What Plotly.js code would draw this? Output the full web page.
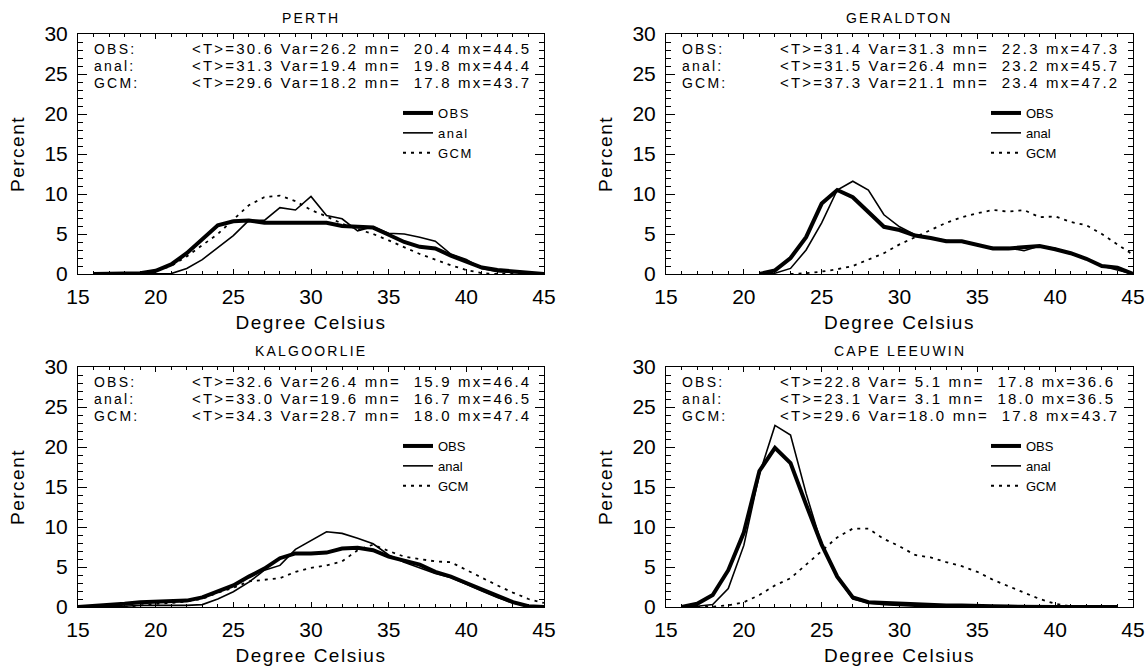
<!DOCTYPE html>
<html>
<head>
<meta charset="utf-8">
<script src="https://cdn.plot.ly/plotly-3.0.1.min.js"></script>
<style>
html,body{margin:0;padding:0;background:#fff;}
#chart{width:1147px;height:669px;}
.annotation-text{letter-spacing:2.2px;}
.legendtext{letter-spacing:1.5px;}
text.xtitle,text.x2title,text.x3title,text.x4title,text.ytitle,text.y2title,text.y3title,text.y4title{letter-spacing:1.5px;}
</style>
</head>
<body>
<div id="chart"></div>
<script>
// ---------------- data ----------------
const stationNames = ['PERTH', 'GERALDTON', 'KALGOORLIE', 'CAPE LEEUWIN'];
const seriesNames = ['OBS', 'anal', 'GCM'];

const perthDeg  = [16,17,18,19,20,21,22,23,24,25,26,27,28,29,30,31,32,33,34,35,36,37,38,39,40,41,42,43,44,45];
const perthObs  = [0,0,0,0.1,0.4,1.2,2.6,4.4,6.1,6.6,6.7,6.4,6.4,6.4,6.4,6.4,6.0,5.9,5.8,4.9,4.0,3.4,3.2,2.3,1.6,0.8,0.5,0.3,0.2,0];
const perthAnal = [0,0,0,0,0,0.05,0.7,1.8,3.3,4.8,6.7,6.7,8.3,8.0,9.7,7.3,6.9,5.4,5.9,5.1,5.0,4.6,4.1,2.5,1.8,0.7,0.3,0.2,0.1,0];
const perthGcm  = [0,0,0,0.1,0.4,1.0,2.2,3.6,5.0,6.8,8.6,9.6,9.8,9.1,8.0,7.2,6.3,5.6,5.0,4.2,3.3,2.5,1.8,1.1,0.5,0.1,0,0,0,0];

const geraldtonDeg  = [21,22,23,24,25,26,27,28,29,30,31,32,33,34,35,36,37,38,39,40,41,42,43,44,45];
const geraldtonObs  = [0,0.45,2.0,4.6,8.8,10.5,9.6,7.7,5.9,5.5,4.8,4.5,4.1,4.1,3.7,3.2,3.2,3.4,3.5,3.1,2.6,1.9,1.0,0.8,0];
const geraldtonAnal = [0,0.1,0.7,3.0,6.4,10.5,11.6,10.5,7.4,5.9,4.9,4.5,4.2,4.0,3.6,3.3,3.3,2.9,3.5,3.2,2.5,1.9,1.0,0.5,0];
const geraldtonGcm  = [null,null,0,0.1,0.3,0.6,1.0,1.8,2.6,3.7,4.6,5.5,6.4,7.1,7.6,8.0,7.8,8.0,7.1,7.2,6.5,6.1,5.0,3.7,2.4];

const kalgoorlieDeg  = [15,16,17,18,19,20,21,22,23,24,25,26,27,28,29,30,31,32,33,34,35,36,37,38,39,40,41,42,43,44,45];
const kalgoorlieObs  = [0,0.1,0.2,0.4,0.6,0.7,0.7,0.8,1.2,1.9,2.7,3.8,4.8,6.1,6.7,6.7,6.8,7.3,7.4,7.1,6.3,5.8,5.3,4.4,3.8,3.0,2.2,1.3,0.6,0.1,0];
const kalgoorlieAnal = [0,0,0.1,0.1,0.2,0.2,0.2,0.2,0.3,1.0,1.9,3.1,4.6,5.2,7.2,8.3,9.4,9.2,8.6,7.9,6.5,5.6,4.9,4.2,3.7,2.8,2.0,1.2,0.5,0.1,0];
const kalgoorlieGcm  = [null,null,null,0,0.2,0.4,0.5,0.7,1.0,1.8,2.4,3.2,3.4,3.6,4.4,4.9,5.2,5.7,7.1,7.8,7.0,6.3,6.0,5.7,5.6,4.6,3.6,2.7,1.8,1.0,0.5];

const leeuwinDeg  = [16,17,18,19,20,21,22,23,24,25,26,27,28,29,30,31,32,33,34,35,36,37,38,39,40,41,42,43,44];
const leeuwinObs  = [0,0.4,1.5,4.6,9.3,17.0,19.9,18.0,12.8,7.8,3.8,1.2,0.6,0.5,0.4,0.3,0.2,0.2,0.2,0.2,0.1,0.05,0,0,0,0,0,0,0];
const leeuwinAnal = [0,0.1,0.3,2.3,7.7,16.6,22.7,21.5,14.2,7.8,3.7,1.0,0.5,0.3,0.2,0.1,0.1,0.1,0.1,0.1,0.05,0,0,0,0,0,0,0,0];
const leeuwinGcm  = [null,0,0.05,0.2,0.6,1.5,2.7,3.6,5.3,6.9,8.7,9.8,9.8,8.5,7.6,6.5,6.2,5.6,5.1,4.4,3.4,2.6,1.8,1.0,0.4,0.1,0,0,0];

// statistics rows: [mean, variance, min, max] for OBS, anal, GCM
const perthStats      = [[30.6,26.2,20.4,44.5],[31.3,19.4,19.8,44.4],[29.6,18.2,17.8,43.7]];
const geraldtonStats  = [[31.4,31.3,22.3,47.3],[31.5,26.4,23.2,45.7],[37.3,21.1,23.4,47.2]];
const kalgoorlieStats = [[32.6,26.4,15.9,46.4],[33.0,19.6,16.7,46.5],[34.3,28.7,18.0,47.4]];
const leeuwinStats    = [[22.8,5.1,17.8,36.6],[23.1,3.1,18.0,36.5],[29.6,18.0,17.8,43.7]];

const xRange = [15, 45];
const yRange = [0, 30];

// ---------------- layout ----------------
const W = 1147, H = 669;
const FONT = 'Liberation Sans, Arial, Helvetica, sans-serif';
const px = v => v / W;
const py = v => 1 - v / H;

const panels = [
  {left: 78,  right: 544,  top: 34,  bottom: 274, deg: perthDeg,      ys: [perthObs, perthAnal, perthGcm],                stats: perthStats},
  {left: 666, right: 1133, top: 34,  bottom: 274, deg: geraldtonDeg,  ys: [geraldtonObs, geraldtonAnal, geraldtonGcm],    stats: geraldtonStats},
  {left: 78,  right: 544,  top: 367, bottom: 607, deg: kalgoorlieDeg, ys: [kalgoorlieObs, kalgoorlieAnal, kalgoorlieGcm], stats: kalgoorlieStats},
  {left: 666, right: 1133, top: 367, bottom: 607, deg: leeuwinDeg,    ys: [leeuwinObs, leeuwinAnal, leeuwinGcm],          stats: leeuwinStats}
];

const lineStyles = [
  {color: '#000', width: 4},
  {color: '#000', width: 1.6},
  {color: '#000', width: 1.8, dash: '3px,5px'}
];

function pad(v, w) {
  let s = v.toFixed(1);
  while (s.length < w) s = ' ' + s;
  return s;
}
function statText(r) {
  const s = '&lt;T&gt;=' + pad(r[0], 4) + ' Var=' + pad(r[1], 4) + ' mn=' + pad(r[2], 6) + ' mx=' + pad(r[3], 4);
  return s.replace(/ /g, '\u00a0');
}

const traces = [];
const layout = {
  width: W, height: H,
  margin: {l: 0, r: 0, t: 0, b: 0},
  font: {family: FONT, color: '#000'},
  annotations: []
};

panels.forEach((p, i) => {
  const n = i === 0 ? '' : String(i + 1);
  p.ys.forEach((vals, k) => {
    traces.push({
      type: 'scatter', mode: 'lines',
      x: p.deg, y: vals,
      name: seriesNames[k],
      xaxis: 'x' + n, yaxis: 'y' + n,
      legend: 'legend' + n,
      line: lineStyles[k]
    });
  });

  layout['xaxis' + n] = {
    domain: [px(p.left), px(p.right)], anchor: 'y' + n,
    range: xRange, tickmode: 'linear', tick0: 15, dtick: 5,
    ticks: 'inside', ticklen: 5, tickcolor: '#000',
    showline: true, linecolor: '#000', linewidth: 1, mirror: 'ticks',
    showgrid: false, zeroline: false,
    minor: {ticks: 'inside', dtick: 1, ticklen: 3, tickcolor: '#000'},
    tickfont: {family: FONT, size: 21, color: '#000'},
    ticklabelstandoff: 4,
    title: {text: 'Degree Celsius', font: {size: 19}, standoff: 8}
  };
  layout['yaxis' + n] = {
    domain: [py(p.bottom), py(p.top)], anchor: 'x' + n,
    range: yRange, tickmode: 'linear', tick0: 0, dtick: 5,
    ticks: 'inside', ticklen: 9, tickcolor: '#000',
    showline: true, linecolor: '#000', linewidth: 1, mirror: 'ticks',
    showgrid: false, zeroline: false,
    minor: {ticks: 'inside', dtick: 1, ticklen: 5, tickcolor: '#000'},
    tickfont: {family: FONT, size: 21, color: '#000'},
    ticklabelstandoff: 5,
    title: {text: 'Percent', font: {size: 19}, standoff: 14}
  };

  layout['legend' + n] = {
    x: px(p.left + 320), y: py(p.top + 64),
    xanchor: 'left', yanchor: 'top',
    bgcolor: 'rgba(0,0,0,0)',
    font: {size: 13}
  };

  // station title
  layout.annotations.push({
    xref: 'paper', yref: 'paper',
    x: px((p.left + p.right) / 2), y: py(p.top - 16.5),
    xanchor: 'center', yanchor: 'middle',
    text: stationNames[i], showarrow: false,
    font: {size: 14}
  });

  // statistics block
  p.stats.forEach((r, k) => {
    const yy = py(p.top + 14.5 + k * 17.2);
    layout.annotations.push({
      xref: 'paper', yref: 'paper', x: px(p.left + 14), y: yy,
      xanchor: 'left', yanchor: 'middle', showarrow: false,
      text: seriesNames[k] + ':', font: {size: 14}
    });
    layout.annotations.push({
      xref: 'paper', yref: 'paper', x: px(p.left + 112), y: yy,
      xanchor: 'left', yanchor: 'middle', showarrow: false,
      text: statText(r), font: {size: 15}
    });
  });
});

Plotly.newPlot('chart', traces, layout, {displayModeBar: false});
</script>
</body>
</html>
